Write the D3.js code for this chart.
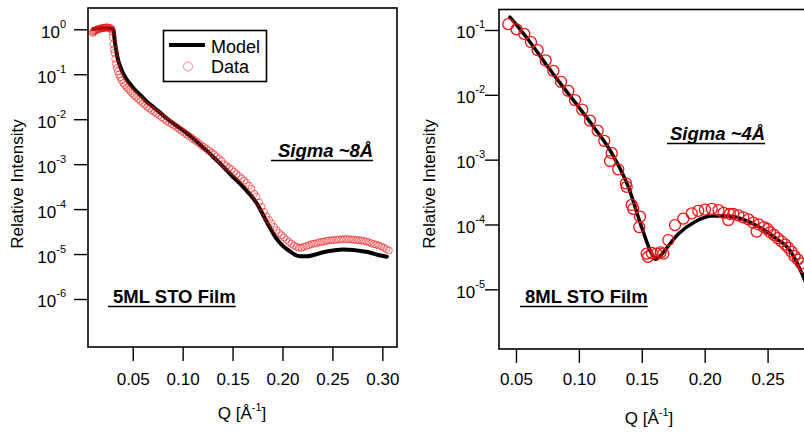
<!DOCTYPE html>
<html>
<head>
<meta charset="utf-8">
<title>STO film reflectivity</title>
<script src="https://d3js.org/d3.v7.min.js"></script>
<style>
  body { margin: 0; background: #fff; }
  svg { display: block; font-family: "Liberation Sans", Arial, Helvetica, sans-serif; }
  .frame { fill: none; stroke: #000; stroke-width: 1.6; }
  .axis line { stroke: #000; stroke-width: 1.4; }
  .axis text { fill: #000; }
  .model { fill: none; stroke: #000; stroke-linejoin: round; stroke-linecap: round; }
  .note { font-weight: bold; font-size: 18.5px; }
</style>
</head>
<body>
<script>
var w = 804, h = 434;

// 5ML STO film: Q [1/A], relative intensity
var data5ML = [
  [0.0098,0.83],[0.0106,0.87],[0.0114,0.91],[0.0122,0.93],[0.0130,0.95],[0.0140,0.98],[0.0150,1.00],
  [0.0160,1.02],[0.0170,1.02],[0.0180,1.05],[0.0190,1.05],[0.0200,1.07],[0.0210,1.07],[0.0220,1.07],
  [0.0230,1.10],[0.0240,1.10],[0.0250,1.10],[0.0260,1.07],[0.0270,1.07],[0.0280,1.05],[0.0288,1.00],
  [0.0294,0.89],[0.0300,0.66],[0.0306,0.46],[0.0312,0.36],[0.0318,0.30],[0.0325,0.22],[0.0333,0.17],
  [0.0342,0.138],[0.0352,0.115],[0.0363,0.098],[0.0375,0.085],[0.0390,0.073],[0.0406,0.064],[0.0422,0.057],
  [0.0440,0.051],[0.0458,0.046],[0.0476,0.042],[0.0495,0.038],[0.0515,0.034],[0.0535,0.031],[0.0556,0.028],
  [0.0578,0.0255],[0.0600,0.023],[0.0622,0.021],[0.0645,0.019],[0.0668,0.0172],[0.0692,0.0157],
  [0.0716,0.0145],[0.0740,0.0134],[0.0765,0.0122],[0.0790,0.0110],[0.0815,0.0100],[0.0840,0.0091],
  [0.0865,0.0084],[0.0890,0.0078],[0.0915,0.0072],[0.0940,0.0066],[0.0965,0.0060],[0.0990,0.0055],
  [0.1015,0.0050],[0.1040,0.0046],[0.1065,0.0042],[0.1090,0.0038],[0.1115,0.0035],[0.1140,0.0032],
  [0.1165,0.0029],[0.1190,0.0026],[0.1215,0.0024],[0.1240,0.0022],[0.1265,0.0020],[0.1290,0.0018],
  [0.1315,0.00166],[0.1340,0.00148],[0.1365,0.00132],[0.1390,0.00117],[0.1415,0.00100],[0.1440,0.00091],
  [0.1465,0.00083],[0.1490,0.00076],[0.1515,0.00068],[0.1540,0.00060],[0.1565,0.00054],[0.1590,0.00048],
  [0.1615,0.00043],[0.1640,0.00038],[0.1665,0.00033],[0.1690,0.00028],[0.1715,0.00022],[0.1740,0.00019],
  [0.1765,0.000141],[0.1790,0.000112],[0.1815,0.000087],[0.1840,0.000069],[0.1865,5.75e-5],[0.1890,4.8e-5],
  [0.1915,4.0e-5],[0.1940,3.4e-5],[0.1965,2.95e-5],[0.1990,2.63e-5],[0.2015,2.34e-5],[0.2040,2.09e-5],
  [0.2065,1.86e-5],[0.2090,1.7e-5],[0.2115,1.55e-5],[0.2140,1.45e-5],[0.2165,1.38e-5],[0.2190,1.38e-5],
  [0.2215,1.45e-5],[0.2240,1.51e-5],[0.2265,1.58e-5],[0.2290,1.66e-5],[0.2315,1.7e-5],[0.2340,1.74e-5],
  [0.2365,1.82e-5],[0.2390,1.86e-5],[0.2415,1.9e-5],[0.2440,1.95e-5],[0.2465,2.0e-5],[0.2490,2.04e-5],
  [0.2515,2.04e-5],[0.2540,2.09e-5],[0.2565,2.09e-5],[0.2590,2.14e-5],[0.2615,2.14e-5],[0.2640,2.14e-5],
  [0.2665,2.14e-5],[0.2690,2.09e-5],[0.2715,2.09e-5],[0.2740,2.04e-5],[0.2765,2.04e-5],[0.2790,2.0e-5],
  [0.2815,1.95e-5],[0.2840,1.9e-5],[0.2865,1.82e-5],[0.2890,1.74e-5],[0.2915,1.66e-5],[0.2940,1.62e-5],
  [0.2965,1.55e-5],[0.2990,1.48e-5],[0.3015,1.38e-5],[0.3040,1.29e-5],[0.3065,1.2e-5]
];
var model5ML = [
  [0.0105,1.02],[0.015,1.05],[0.020,1.05],[0.025,1.05],[0.0300,1.02],[0.0310,0.89],[0.0316,0.66],
  [0.0324,0.49],[0.0335,0.34],[0.0346,0.245],[0.0365,0.17],[0.0390,0.123],[0.0420,0.089],[0.0456,0.068],
  [0.050,0.051],[0.054,0.041],[0.059,0.032],[0.064,0.0245],[0.069,0.020],[0.075,0.0155],[0.084,0.0105],
  [0.094,0.0071],[0.104,0.0049],[0.114,0.0032],[0.124,0.0020],[0.132,0.00135],[0.1408,8.7e-4],
  [0.149,5.6e-4],[0.1575,3.7e-4],[0.166,2.3e-4],[0.1742,1.35e-4],[0.181,7.1e-5],[0.1876,3.8e-5],
  [0.1935,2.3e-5],[0.1993,1.6e-5],[0.204,1.3e-5],[0.2076,1.15e-5],[0.213,9.5e-6],[0.2176,8.9e-6],
  [0.224,8.9e-6],[0.231,9.5e-6],[0.241,1.1e-5],[0.251,1.2e-5],[0.261,1.26e-5],[0.271,1.23e-5],
  [0.280,1.15e-5],[0.288,1.07e-5],[0.296,9.5e-6],[0.3045,8.7e-6]
];

// 8ML STO film
var data8ML = [
  [0.0439,0.123],[0.0505,0.102],[0.0566,0.087],[0.0619,0.065],[0.0672,0.049],[0.0736,0.034],
  [0.0797,0.0234],[0.0858,0.0158],[0.0916,0.0115],[0.0969,0.0083],[0.1027,0.0059],[0.1088,0.0040],
  [0.1149,0.0028],[0.1202,0.00195],[0.1247,0.00095],[0.1261,0.00126],[0.1313,0.00071],[0.1374,0.00043],
  [0.1380,0.00038],[0.1420,0.00020],[0.1432,0.000174],[0.1486,0.000132],[0.1480,0.000091],
  [0.1539,3.55e-5],[0.1550,3.16e-5],[0.1580,3.63e-5],[0.1618,3.55e-5],[0.1650,3.72e-5],[0.1671,3.55e-5],
  [0.1711,5.75e-5],[0.1764,9.8e-5],[0.1830,0.000123],[0.1897,0.000148],[0.1949,0.000162],[0.2002,0.00017],
  [0.2056,0.000174],[0.2110,0.000166],[0.2150,0.000151],[0.2188,0.000117],[0.2200,0.000145],
  [0.2227,0.000145],[0.2267,0.000138],[0.2307,0.000129],[0.2347,0.00012],[0.2386,0.000107],
  [0.2413,7.76e-5],[0.2430,0.0001],[0.2470,9.12e-5],[0.2500,8.51e-5],[0.2519,7.59e-5],[0.2550,6.92e-5],
  [0.2580,6.17e-5],[0.2610,5.5e-5],[0.2640,4.9e-5],[0.2665,4.37e-5],[0.2690,3.8e-5],[0.2715,3.24e-5],
  [0.2740,2.88e-5],[0.2765,2.51e-5],[0.2790,2.19e-5]
];
var model8ML = [
  [0.0452,0.158],[0.0598,0.0708],[0.0731,0.031],[0.0863,0.0141],[0.0995,0.0066],[0.1128,0.0030],
  [0.1261,0.00126],[0.1393,0.00038],[0.1499,9.1e-5],[0.1579,3.55e-5],[0.1610,2.9e-5],[0.1640,3.16e-5],
  [0.1684,4.0e-5],[0.1790,7.1e-5],[0.1923,1.1e-4],[0.2056,1.35e-4],[0.2188,1.35e-4],[0.2320,1.17e-4],
  [0.2453,8.7e-5],[0.2585,5.75e-5],[0.2652,4.57e-5],[0.2718,2.95e-5],[0.2771,1.78e-5],[0.2800,1.32e-5]
];

var xTicks5ML = [0.05, 0.10, 0.15, 0.20, 0.25, 0.30];
var xTicks8ML = [0.05, 0.10, 0.15, 0.20, 0.25];
var yTicks5ML = [1, 1e-1, 1e-2, 1e-3, 1e-4, 1e-5, 1e-6];
var yTicks8ML = [1e-1, 1e-2, 1e-3, 1e-4, 1e-5];

var svg = d3.select("body").append("svg").attr("width", w).attr("height", h);

function drawPanel(p, id) {
  var x = d3.scaleLinear().domain(p.xDomain).range([p.left, p.right]);
  var y = d3.scaleLog().domain(p.yDomain).range([p.bottom, p.top]);

  svg.append("clipPath").attr("id", id)
    .append("rect").attr("x", p.left).attr("y", p.top)
    .attr("width", p.right - p.left).attr("height", p.bottom - p.top);

  // y axis, ticks outside
  var gy = svg.append("g").attr("class", "axis")
    .attr("transform", "translate(" + p.left + ",0)")
    .call(d3.axisLeft(y).tickValues(p.yTicks).tickSize(14).tickFormat(""));
  gy.select(".domain").remove();
  gy.selectAll(".tick").append("text")
    .attr("x", p.yLabelEnd - p.left).attr("y", 8)
    .attr("text-anchor", "end")
    .style("font-size", "17px")
    .each(function (d) {
      var t = d3.select(this);
      t.append("tspan").text("10");
      t.append("tspan").attr("dy", -10).style("font-size", "11px")
        .text(Math.round(Math.log10(d)));
    });

  // x axis
  var gx = svg.append("g").attr("class", "axis")
    .attr("transform", "translate(0," + p.bottom + ")")
    .call(d3.axisBottom(x).tickValues(p.xTicks).tickSize(14)
      .tickPadding(p.xPad).tickFormat(d3.format(".2f")));
  gx.select(".domain").remove();
  gx.selectAll("text").style("font-size", "17px");
  gy.attr("font-family", null).attr("font-size", null);
  gx.attr("font-family", null).attr("font-size", null);

  // frame
  svg.append("rect").attr("class", "frame")
    .attr("x", p.left).attr("y", p.top)
    .attr("width", p.right - p.left).attr("height", p.bottom - p.top);

  var plot = svg.append("g").attr("clip-path", "url(#" + id + ")");

  var line = d3.line()
    .x(function (d) { return x(d[0]); })
    .y(function (d) { return y(d[1]); })
    .curve(d3.curveMonotoneX);

  plot.append("path").datum(p.model).attr("class", "model")
    .attr("stroke-width", p.lineWidth).attr("d", line);

  plot.selectAll("circle.pt").data(p.data).enter().append("circle")
    .attr("class", "pt")
    .attr("cx", function (d) { return x(d[0]); })
    .attr("cy", function (d) { return y(d[1]); })
    .attr("r", p.r)
    .attr("fill", "none")
    .attr("stroke", p.dotColor)
    .attr("stroke-width", p.dotWidth);

  // axis titles
  svg.append("text")
    .attr("transform", "translate(" + p.yTitleX + "," + p.yTitleY + ") rotate(-90)")
    .attr("text-anchor", "middle").style("font-size", "17px")
    .text("Relative Intensity");

  var xt = svg.append("text").attr("x", p.xTitleX).attr("y", p.xTitleY)
    .attr("text-anchor", "middle").style("font-size", "17px");
  xt.append("tspan").text("Q [Å");
  xt.append("tspan").attr("dy", -8).style("font-size", "11px").text("-1");
  xt.append("tspan").attr("dy", 8).text("]");

  // underlined notes
  p.notes.forEach(function (n) {
    var t = svg.append("text").attr("class", "note")
      .attr("x", n.x).attr("y", n.y)
      .style("font-style", n.italic ? "italic" : "normal")
      .text(n.text);
    var bb = t.node().getBBox();
    svg.append("line")
      .attr("x1", bb.x - n.lead).attr("x2", bb.x + bb.width)
      .attr("y1", n.y + 3.5).attr("y2", n.y + 3.5)
      .attr("stroke", "#000").attr("stroke-width", 1.6);
  });

  return { x: x, y: y };
}

drawPanel({
  left: 88, right: 397, top: 8, bottom: 347,
  xDomain: [0.0052, 0.3147],
  yDomain: [Math.pow(10, -7.068), Math.pow(10, 0.474)],
  xTicks: xTicks5ML, yTicks: yTicks5ML,
  yLabelEnd: 66, xPad: 12,
  model: model5ML, data: data5ML,
  lineWidth: 4, r: 3.5, dotColor: "rgba(238,20,20,0.6)", dotWidth: 1,
  yTitleX: 23, yTitleY: 184, xTitleX: 242, xTitleY: 419,
  notes: [
    { text: "Sigma ~8Å", x: 278, y: 157, italic: true, lead: 7 },
    { text: "5ML STO Film", x: 113, y: 303, italic: false, lead: 5 }
  ]
}, "clip5");

drawPanel({
  left: 499, right: 806, top: 9.5, bottom: 349,
  xDomain: [0.0365, 0.0365 + 307 / 1258],
  yDomain: [Math.pow(10, -5.921), Math.pow(10, -0.684)],
  xTicks: xTicks8ML, yTicks: yTicks8ML,
  yLabelEnd: 485, xPad: 10,
  model: model8ML, data: data8ML,
  lineWidth: 3.5, r: 5.5, dotColor: "#ee1111", dotWidth: 1.3,
  yTitleX: 435, yTitleY: 184, xTitleX: 649, xTitleY: 424,
  notes: [
    { text: "Sigma ~4Å", x: 670, y: 140, italic: true, lead: 3 },
    { text: "8ML STO Film", x: 525, y: 303, italic: false, lead: 5 }
  ]
}, "clip8");

// legend (left panel)
var lg = svg.append("g");
lg.append("rect").attr("x", 163.5).attr("y", 30.5).attr("width", 103).attr("height", 51)
  .attr("fill", "#fff").attr("stroke", "#000").attr("stroke-width", 1.6);
lg.append("line").attr("x1", 169).attr("x2", 205).attr("y1", 45).attr("y2", 45)
  .attr("stroke", "#000").attr("stroke-width", 4);
lg.append("circle").attr("cx", 188).attr("cy", 66.5).attr("r", 4.5)
  .attr("fill", "none").attr("stroke", "#f08a8a").attr("stroke-width", 1);
lg.append("text").attr("x", 211).attr("y", 52.5).style("font-size", "18px").text("Model");
lg.append("text").attr("x", 211).attr("y", 73).style("font-size", "18px").text("Data");
</script>
</body>
</html>
